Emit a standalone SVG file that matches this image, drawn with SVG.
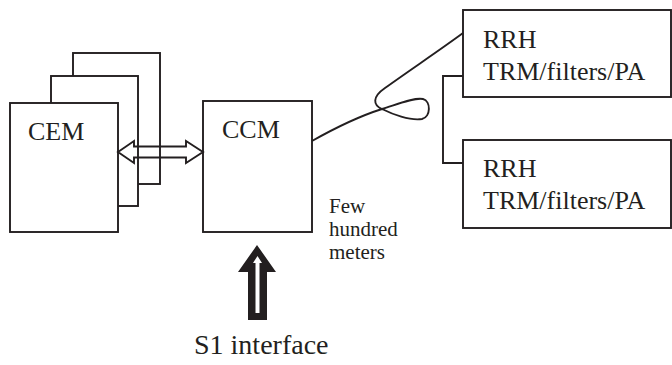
<svg xmlns="http://www.w3.org/2000/svg" width="672" height="365" viewBox="0 0 672 365">
<style>
.box{fill:#fff;stroke:#231f20;stroke-width:1.9}
.ln{fill:none;stroke:#231f20;stroke-width:1.9}
text{font-family:'Liberation Serif','Times New Roman','DejaVu Serif',serif;fill:#231f20}
.big{font-size:26px}
.sm{font-size:21px}
</style>
<rect width="672" height="365" fill="#fff"/>
<g id="cem">
<rect class="box" x="73" y="53" width="87" height="131"/>
<rect class="box" x="51" y="76" width="87" height="130"/>
<rect class="box" x="10" y="103" width="108" height="129"/>
<text class="big" x="28" y="140">CEM</text>
</g>
<g id="ccm">
<rect class="box" x="203" y="101" width="109" height="131"/>
<text class="big" x="222" y="138">CCM</text>
</g>
<g id="rrh1">
<rect class="box" x="463" y="10" width="208" height="87"/>
<text class="big" x="483" y="48">RRH</text>
<text class="big" x="483" y="80">TRM/filters/PA</text>
</g>
<g id="rrh2">
<rect class="box" x="463" y="140" width="208" height="88"/>
<text class="big" x="483" y="177">RRH</text>
<text class="big" x="483" y="209">TRM/filters/PA</text>
</g>
<g id="label-distance">
<text class="sm" x="329" y="213">Few</text>
<text class="sm" x="329" y="236">hundred</text>
<text class="sm" x="329" y="259">meters</text>
</g>
<g id="s1">
<path d="M257 245 L276 272 L267 272 L267 320 L248 320 L248 272 L238 272 Z" fill="#231f20"/>
<path d="M257.5 256 L262 263 L259.5 263 L259.5 313 L255.5 313 L255.5 263 L253 263 Z" fill="#fff"/>
<text x="194" y="354" style="font-size:28px">S1 interface</text>
</g>
<g id="connectors">
<path class="ln" d="M118 152 L134 141 L134 146.5 L186 146.5 L186 141 L203 152 L186 163 L186 157.5 L134 157.5 L134 163 Z"/>
<path class="ln" d="M312 141 C335 128 360 116 382 109 C398 104 415 97 423 99 C431 101 431 117 422 119 C410 121 392 114 382 109 C373 105 372 97 385 88 C410 70 440 50 463 33"/>
<polyline class="ln" points="463,76 443,76 443,163 463,163"/>
</g>
</svg>
